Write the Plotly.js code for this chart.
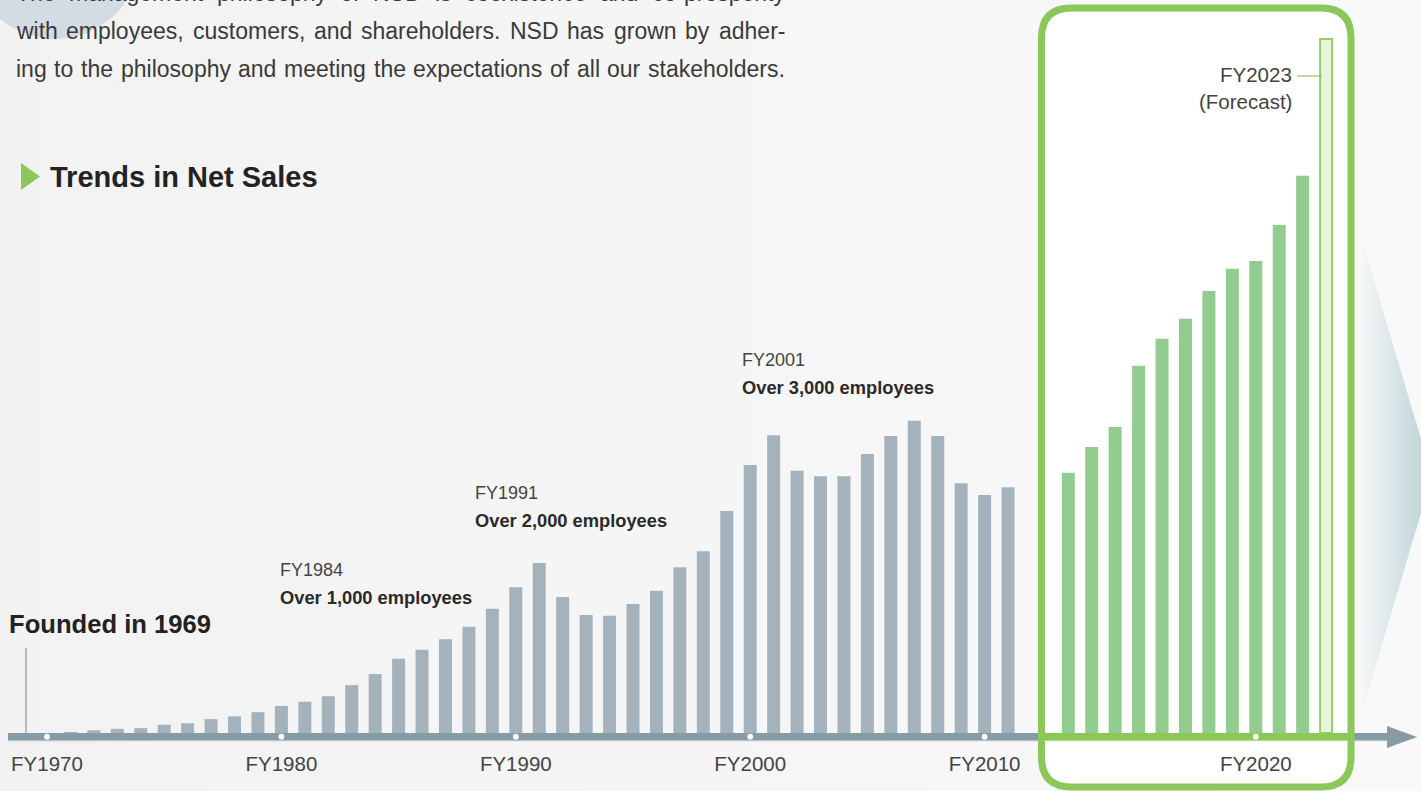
<!DOCTYPE html>
<html>
<head>
<meta charset="utf-8">
<script src="https://cdn.plot.ly/plotly-3.0.1.min.js"></script>
<style>
  html, body { margin: 0; padding: 0; background: #f4f4f4; overflow: hidden; }
  #chart { width: 1421px; height: 791px; }
</style>
</head>
<body>
<div id="chart"></div>
<script>
// ---------------- DATA (net sales; FY2023 forecast = 100) ----------------
const GRAY_YEARS = [1971,1972,1973,1974,1975,1976,1977,1978,1979,1980,
                    1981,1982,1983,1984,1985,1986,1987,1988,1989,1990,
                    1991,1992,1993,1994,1995,1996,1997,1998,1999,2000,
                    2001,2002,2003,2004,2005,2006,2007,2008,2009,2010,
                    2011];
const GRAY_SALES = [0.15,0.4,0.6,0.7,1.2,1.4,2.0,2.4,3.0,3.9,
                    4.5,5.3,6.9,8.5,10.7,12.0,13.5,15.3,17.9,21.0,
                    24.5,19.6,17.0,16.9,18.6,20.5,23.9,26.2,32.0,38.6,
                    42.9,37.8,37.0,37.0,40.2,42.8,45.0,42.8,36.0,34.3,
                    35.4];
const GREEN_YEARS = [2012,2013,2014,2015,2016,2017,2018,2019,2020,2021,2022];
const GREEN_SALES = [37.5,41.2,44.1,52.9,56.8,59.7,63.7,66.9,68.0,73.2,80.3];
const FORECAST_YEARS = [2023];
const FORECAST_SALES = [100];

const TICK_YEARS  = [1970,1980,1990,2000,2010,2020];
const TICK_LABELS = ['FY1970','FY1980','FY1990','FY2000','FY2010','FY2020'];

const MILESTONE_FY    = ['FY1984','FY1991','FY2001'];
const MILESTONE_TEXT  = ['Over 1,000 employees','Over 2,000 employees','Over 3,000 employees'];

const PARAGRAPH = [
  'The management philosophy of NSD is coexistence and co-prosperity',
  'with employees, customers, and shareholders. NSD has grown by adher-',
  'ing to the philosophy and meeting the expectations of all our stakeholders.'
];
const HEADING  = 'Trends in Net Sales';
const FOUNDED  = 'Founded in 1969';
const FORECAST_LABEL = ['FY2023','(Forecast)'];

// ---------------- LAYOUT CONSTANTS ----------------
const W = 1421, H = 791, PH = 733;          // plot height (baseline at pixel 733)
const TICK0_PX = 47, PX_PER_YEAR = 23.44;   // x scale
const GAP = 1.57;                           // extra space before the green period (years)
const PX_PER_UNIT = 6.94;                   // y scale
const FONT = '"Liberation Sans", Arial, sans-serif';
const GREEN = '#8cc75a';

const pos = y => (y >= 2012 ? y + GAP : y);
const X = px => px / W;
const Y = py => (PH - py) / PH;
const P = (x, y) => X(x).toFixed(5) + ',' + Y(y).toFixed(5);

const barW = 13 / PX_PER_YEAR;

// ---------------- TRACES ----------------
const traces = [
  { type: 'bar', x: GRAY_YEARS.map(pos), y: GRAY_SALES, width: barW,
    marker: { color: '#a4b3bb', line: { width: 0 } }, hoverinfo: 'skip' },
  { type: 'bar', x: GREEN_YEARS.map(pos), y: GREEN_SALES, width: barW,
    marker: { color: '#93cc8f', line: { width: 0 } }, hoverinfo: 'skip' },
  { type: 'bar', x: FORECAST_YEARS.map(pos), y: FORECAST_SALES, width: 12 / PX_PER_YEAR,
    marker: { color: '#eaf4dc', line: { width: 2, color: '#95cc6c' } }, hoverinfo: 'skip' }
];

// ---------------- DECORATION (background image) ----------------
const svg = `<svg xmlns='http://www.w3.org/2000/svg' width='1421' height='791' viewBox='0 0 1421 791' preserveAspectRatio='none'>
<defs>
<linearGradient id='bg' x1='0' x2='1' y1='0' y2='0'><stop offset='0' stop-color='#f2f2f2'/><stop offset='1' stop-color='#f9f9f9'/></linearGradient>
<linearGradient id='tri' gradientUnits='userSpaceOnUse' x1='1362' y1='0' x2='1426' y2='0'><stop offset='0' stop-color='#f6f7f7'/><stop offset='1' stop-color='#bdd3d7'/></linearGradient>
</defs>
<rect width='1421' height='791' fill='url(#bg)'/>
<circle cx='55' cy='-47' r='86' fill='#d3dce2'/>
<polygon points='1362,240 1432,476 1362,712' fill='url(#tri)'/>
</svg>`;
const images = [{
  source: 'data:image/svg+xml;charset=utf-8,' + encodeURIComponent(svg),
  xref: 'paper', yref: 'paper', x: 0, y: 1, sizex: 1, sizey: H / PH,
  xanchor: 'left', yanchor: 'top', sizing: 'stretch', layer: 'below'
}];

// ---------------- SHAPES ----------------
const fL = 1041.5, fR = 1351, fT = 8, fB = 787, fr = 30;
const framePath = `M${P(fL+fr,fT)} L${P(fR-fr,fT)} Q${P(fR,fT)} ${P(fR,fT+fr)} L${P(fR,fB-fr)} Q${P(fR,fB)} ${P(fR-fr,fB)} L${P(fL+fr,fB)} Q${P(fL,fB)} ${P(fL,fB-fr)} L${P(fL,fT+fr)} Q${P(fL,fT)} ${P(fL+fr,fT)} Z`;

const shapes = [
  // gray time axis band
  { type: 'rect', xref: 'paper', yref: 'paper', x0: X(8), x1: X(1390), y0: Y(740), y1: Y(733),
    fillcolor: '#879ba6', line: { width: 0 }, layer: 'below' },
  { type: 'rect', xref: 'paper', yref: 'paper', x0: X(8), x1: X(1390), y0: Y(741.2), y1: Y(740),
    fillcolor: '#b7c5cc', line: { width: 0 }, layer: 'below' },
  // arrow head
  { type: 'path', xref: 'paper', yref: 'paper', path: `M${P(1387,726)} L${P(1417,737)} L${P(1387,748)} Z`,
    fillcolor: '#879ba6', line: { width: 0 }, layer: 'below' },
  // green frame
  { type: 'path', xref: 'paper', yref: 'paper', path: framePath,
    fillcolor: '#ffffff', line: { color: GREEN, width: 7 }, layer: 'below' },
  // green axis band inside frame
  { type: 'rect', xref: 'paper', yref: 'paper', x0: X(fL), x1: X(fR), y0: Y(740), y1: Y(733),
    fillcolor: GREEN, line: { width: 0 }, layer: 'below' },
  { type: 'rect', xref: 'paper', yref: 'paper', x0: X(fL+3), x1: X(fR-3), y0: Y(741.2), y1: Y(740),
    fillcolor: '#b9de9c', line: { width: 0 }, layer: 'below' },
  // heading triangle
  { type: 'path', xref: 'paper', yref: 'paper', path: `M${P(21,163)} L${P(40,176.5)} L${P(21,190)} Z`,
    fillcolor: GREEN, line: { width: 0 } },
  // founded marker line
  { type: 'line', xref: 'paper', yref: 'paper', x0: X(26), x1: X(26), y0: Y(648), y1: Y(733),
    line: { color: '#aaaaa3', width: 1.5 } },
  // forecast connector
  { type: 'line', xref: 'paper', yref: 'paper', x0: X(1297), x1: X(1322), y0: Y(76), y1: Y(76),
    line: { color: GREEN, width: 1.2 } }
];
// white dots at decade ticks
TICK_YEARS.forEach(t => {
  shapes.push({ type: 'circle', xref: 'x', yref: 'paper',
    x0: pos(t) - 2.9 / PX_PER_YEAR, x1: pos(t) + 2.9 / PX_PER_YEAR,
    y0: Y(739.6), y1: Y(733.8), fillcolor: '#ffffff', line: { width: 0 }, layer: 'below' });
});

// ---------------- ANNOTATIONS ----------------
const annotations = [];
const txt = (text, xpx, ypx, size, opts = {}) => annotations.push(Object.assign({
  text, x: X(xpx), y: Y(ypx), xref: 'paper', yref: 'paper', showarrow: false,
  xanchor: 'left', yanchor: 'middle', borderpad: 0,
  font: { family: FONT, size, color: '#333333' }
}, opts));

// justified paragraph (its first line is cut by the top edge, as in the reference)
const ctx = document.createElement('canvas').getContext('2d');
function justified(line, yc, x0, x1, size) {
  const words = line.split(' ');
  ctx.font = size + 'px "Liberation Sans"';
  const ws = words.map(w => ctx.measureText(w).width);
  const total = ws.reduce((a, b) => a + b, 0);
  const gap = (x1 - x0 - total) / (words.length - 1);
  let x = x0;
  words.forEach((w, i) => {
    txt(w, x, yc, size, { font: { family: FONT, size, color: '#3a3a3a' } });
    x += ws[i] + gap;
  });
}
const PARA_Y = [-7, 31, 69];
PARAGRAPH.forEach((l, i) => justified(l, PARA_Y[i], 15, 784, 23));

txt('<b>' + HEADING + '</b>', 49, 177, 29, { font: { family: FONT, size: 29, color: '#222222' } });
txt('<b>' + FOUNDED + '</b>', 8, 624, 25.6, { font: { family: FONT, size: 25.6, color: '#222222' } });

const MS_POS = [[279, 570], [474, 493], [741, 360]];
MILESTONE_FY.forEach((fy, i) => {
  const [mx, my] = MS_POS[i];
  txt(fy, mx, my, 18, { font: { family: FONT, size: 18, color: '#444444' } });
  txt('<b>' + MILESTONE_TEXT[i] + '</b>', mx, my + 27.5, 18.3, { font: { family: FONT, size: 18.3, color: '#2a2a2a' } });
});

txt(FORECAST_LABEL[0], 1293, 75, 20.5, { xanchor: 'right', font: { family: FONT, size: 20.5, color: '#444444' } });
txt(FORECAST_LABEL[1], 1293, 102, 20.5, { xanchor: 'right', font: { family: FONT, size: 20.5, color: '#444444' } });

// ---------------- LAYOUT ----------------
const layout = {
  width: W, height: H,
  margin: { l: 0, r: 0, t: 0, b: H - PH, pad: 0 },
  paper_bgcolor: '#f4f4f4', plot_bgcolor: 'rgba(0,0,0,0)',
  showlegend: false, barmode: 'overlay',
  xaxis: {
    range: [1970 - TICK0_PX / PX_PER_YEAR, 1970 + (W - TICK0_PX) / PX_PER_YEAR],
    tickmode: 'array', tickvals: TICK_YEARS.map(pos), ticktext: TICK_LABELS,
    ticks: 'outside', ticklen: 12, tickcolor: 'rgba(0,0,0,0)',
    tickfont: { family: FONT, size: 20.5, color: '#444444' },
    showgrid: false, zeroline: false, showline: false, fixedrange: true
  },
  yaxis: { range: [0, PH / PX_PER_UNIT], visible: false, fixedrange: true },
  shapes, annotations, images
};

Plotly.newPlot('chart', traces, layout, { staticPlot: true, displayModeBar: false });
</script>
</body>
</html>
